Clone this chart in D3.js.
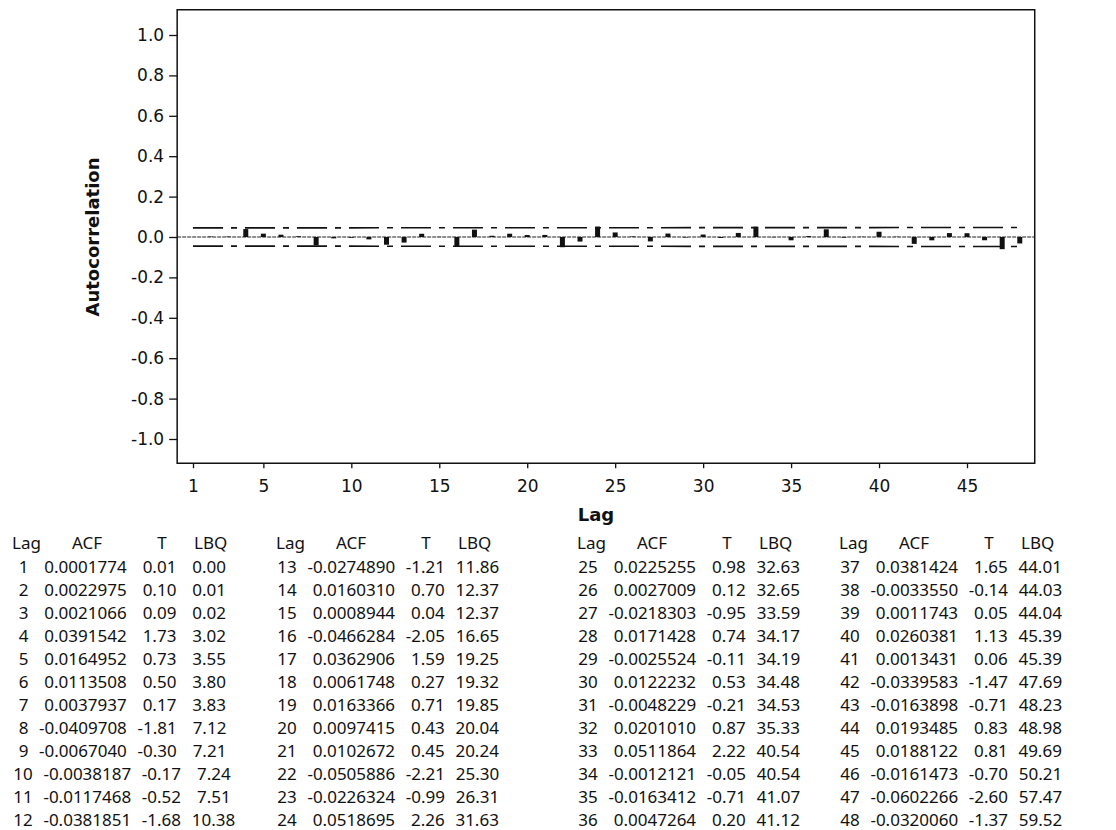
<!DOCTYPE html>
<html>
<head>
<meta charset="utf-8">
<script src="https://cdn.jsdelivr.net/npm/d3@7"></script>
<style>
  body { margin: 0; background: #fff; }
</style>
</head>
<body>
<div id="chart"></div>
<script>
// ACF output
var lags = [1, 2, 3, 4, 5, 6, 7, 8, 9, 10, 11, 12,
  13, 14, 15, 16, 17, 18, 19, 20, 21, 22, 23, 24,
  25, 26, 27, 28, 29, 30, 31, 32, 33, 34, 35, 36,
  37, 38, 39, 40, 41, 42, 43, 44, 45, 46, 47, 48];

var acf = [0.0001774, 0.0022975, 0.0021066, 0.0391542, 0.0164952, 0.0113508,
  0.0037937, -0.0409708, -0.0067040, -0.0038187, -0.0117468, -0.0381851,
  -0.0274890, 0.0160310, 0.0008944, -0.0466284, 0.0362906, 0.0061748,
  0.0163366, 0.0097415, 0.0102672, -0.0505886, -0.0226324, 0.0518695,
  0.0225255, 0.0027009, -0.0218303, 0.0171428, -0.0025524, 0.0122232,
  -0.0048229, 0.0201010, 0.0511864, -0.0012121, -0.0163412, 0.0047264,
  0.0381424, -0.0033550, 0.0011743, 0.0260381, 0.0013431, -0.0339583,
  -0.0163898, 0.0193485, 0.0188122, -0.0161473, -0.0602266, -0.0320060];

var tStat = [0.01, 0.10, 0.09, 1.73, 0.73, 0.50, 0.17, -1.81, -0.30, -0.17, -0.52, -1.68,
  -1.21, 0.70, 0.04, -2.05, 1.59, 0.27, 0.71, 0.43, 0.45, -2.21, -0.99, 2.26,
  0.98, 0.12, -0.95, 0.74, -0.11, 0.53, -0.21, 0.87, 2.22, -0.05, -0.71, 0.20,
  1.65, -0.14, 0.05, 1.13, 0.06, -1.47, -0.71, 0.83, 0.81, -0.70, -2.60, -1.37];

var lbq = [0.00, 0.01, 0.02, 3.02, 3.55, 3.80, 3.83, 7.12, 7.21, 7.24, 7.51, 10.38,
  11.86, 12.37, 12.37, 16.65, 19.25, 19.32, 19.85, 20.04, 20.24, 25.30, 26.31, 31.63,
  32.63, 32.65, 33.59, 34.17, 34.19, 34.48, 34.53, 35.33, 40.54, 40.54, 41.07, 41.12,
  44.01, 44.03, 44.04, 45.39, 45.39, 47.69, 48.23, 48.98, 49.69, 50.21, 57.47, 59.52];

// significance limits (upper; lower is the mirror), read at first and last lag
var limitLags = [1, 48];
var limitUpper = [0.045, 0.047];

var xTicks = [1, 5, 10, 15, 20, 25, 30, 35, 40, 45];
var yTicks = [-1.0, -0.8, -0.6, -0.4, -0.2, 0.0, 0.2, 0.4, 0.6, 0.8, 1.0];
var tableHeader = ["Lag", "ACF", "T", "LBQ"];

var svgWidth = 1116;
var svgHeight = 830;

var svg = d3.select("#chart")
  .append("svg")
  .attr("width", svgWidth)
  .attr("height", svgHeight)
  .style("font-family", "'DejaVu Sans', sans-serif");

// scales
var x = d3.scaleLinear().domain([1, 45]).range([193, 967]);
var y = d3.scaleLinear().domain([-1, 1]).range([439, 35]);

var frameLeft = x(0.1), frameRight = x(48.85);
var frameTop = y(1.125), frameBottom = y(-1.12);

// frame
svg.append("rect")
  .attr("x", frameLeft)
  .attr("y", frameTop)
  .attr("width", frameRight - frameLeft)
  .attr("height", frameBottom - frameTop)
  .attr("fill", "none")
  .attr("stroke", "#111")
  .attr("stroke-width", 1.5);

// axes
var fmt = function(d) { return d.toFixed(1); };

var yAxis = svg.append("g")
  .attr("transform", `translate(${frameLeft},0)`)
  .call(d3.axisLeft(y).tickValues(yTicks).tickFormat(fmt).tickSize(8).tickPadding(5));
yAxis.select(".domain").remove();
yAxis.selectAll("line").attr("stroke", "#111").attr("stroke-width", 1.3);
yAxis.selectAll("text").attr("font-size", 17).attr("fill", "#111")
  .attr("font-family", "'DejaVu Sans', sans-serif");

var xAxis = svg.append("g")
  .attr("transform", `translate(0,${frameBottom})`)
  .call(d3.axisBottom(x).tickValues(xTicks).tickSize(5).tickPadding(12));
xAxis.select(".domain").remove();
xAxis.selectAll("line").attr("stroke", "#111").attr("stroke-width", 1.3);
xAxis.selectAll("text").attr("font-size", 17).attr("fill", "#111")
  .attr("font-family", "'DejaVu Sans', sans-serif");

// zero line
svg.append("line")
  .attr("x1", frameLeft).attr("x2", frameRight)
  .attr("y1", y(0)).attr("y2", y(0))
  .attr("stroke", "#222")
  .attr("stroke-width", 1.2)
  .attr("stroke-dasharray", "4,1");

// limit lines
var limitLine = d3.line()
  .x(function(d) { return x(d[0]); })
  .y(function(d) { return y(d[1]); });

[1, -1].forEach(function(sign) {
  svg.append("path")
    .datum(limitLags.map(function(l, i) { return [l, sign * limitUpper[i]]; }))
    .attr("d", limitLine)
    .attr("fill", "none")
    .attr("stroke", "#111")
    .attr("stroke-width", 1.6)
    .attr("stroke-dasharray", "30,8,6,8");
});

// ACF bars
svg.append("g")
  .selectAll("rect")
  .data(lags)
  .enter()
  .append("rect")
  .attr("x", function(d) { return x(d) - 2.5; })
  .attr("width", 5)
  .attr("y", function(d, i) { return y(Math.max(0, acf[i])); })
  .attr("height", function(d, i) { return Math.abs(y(acf[i]) - y(0)); })
  .attr("fill", "#111");

// axis titles
svg.append("text")
  .attr("transform", `translate(99, ${y(0)}) rotate(-90)`)
  .attr("text-anchor", "middle")
  .attr("font-size", 18)
  .attr("font-weight", "bold")
  .attr("fill", "#111")
  .text("Autocorrelation");

svg.append("text")
  .attr("x", 596)
  .attr("y", 521)
  .attr("text-anchor", "middle")
  .attr("font-size", 18)
  .attr("font-weight", "bold")
  .attr("fill", "#111")
  .text("Lag");

// session table, four blocks of 12 lags
var blockX = [8, 272, 573, 835];
var headerX = [4, 79, 154, 186];
var headerAnchor = ["start", "middle", "middle", "start"];
var headerY = 549;
var rowY0 = 573, rowStep = 23;

var table = svg.append("g")
  .attr("font-family", "'Noto Sans', sans-serif")
  .attr("font-size", 17)
  .attr("fill", "#111");

blockX.forEach(function(bx, b) {
  tableHeader.forEach(function(h, j) {
    table.append("text")
      .attr("x", bx + headerX[j])
      .attr("y", headerY)
      .attr("text-anchor", headerAnchor[j])
      .text(h);
  });

  var rows = lags.slice(b * 12, b * 12 + 12);
  table.selectAll(".row" + b)
    .data(rows)
    .enter()
    .append("text")
    .attr("class", "row" + b)
    .attr("x", bx)
    .attr("y", function(d, i) { return rowY0 + i * rowStep; })
    .attr("xml:space", "preserve")
    .style("white-space", "pre")
    .attr("word-spacing", 0.9)
    .text(function(d) {
      var i = d - 1;
      return String(d).padStart(3) +
        acf[i].toFixed(7).padStart(12) +
        tStat[i].toFixed(2).padStart(7) +
        lbq[i].toFixed(2).padStart(7);
    });
});
</script>
</body>
</html>
